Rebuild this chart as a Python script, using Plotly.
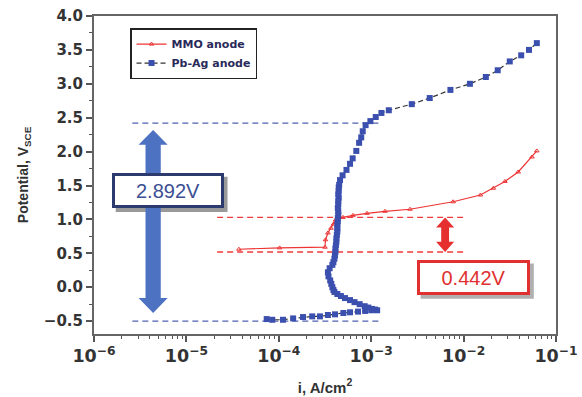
import plotly.graph_objects as go

# ---------------- data ----------------
pbag_i = [7.4e-5, 8.5e-5, 1.11e-4, 1.43e-4, 1.83e-4, 2.3e-4, 2.79e-4, 3.4e-4, 4.06e-4, 5.0e-4,
          5.9e-4, 7.2e-4, 8.6e-4, 1.0e-3, 1.16e-3, 1.1e-3, 1.02e-3, 9.3e-4, 8.5e-4, 7.5e-4,
          6.6e-4, 5.9e-4, 5.2e-4, 4.7e-4, 4.3e-4, 4.0e-4, 3.9e-4, 3.8e-4, 3.7e-4, 3.6e-4,
          3.45e-4, 3.4e-4, 3.55e-4, 3.8e-4, 3.9e-4, 4.0e-4, 4.05e-4, 4.1e-4, 4.1e-4, 4.15e-4,
          4.2e-4, 4.2e-4, 4.25e-4, 4.3e-4, 4.3e-4, 4.3e-4, 4.35e-4, 4.35e-4, 4.4e-4, 4.4e-4,
          4.35e-4, 4.4e-4, 4.4e-4, 4.45e-4, 4.4e-4, 4.45e-4, 4.45e-4, 4.5e-4, 4.6e-4, 4.9e-4,
          5.4e-4, 5.9e-4, 6.3e-4, 6.9e-4, 7.4e-4, 7.8e-4, 8.1e-4, 8.7e-4, 9.8e-4, 1.12e-3,
          1.29e-3, 1.55e-3, 2.75e-3, 4.3e-3, 7.2e-3, 1.17e-2, 1.74e-2, 2.34e-2, 3.16e-2, 4.2e-2,
          5.1e-2, 6.2e-2]
pbag_v = [-0.47, -0.48, -0.48, -0.46, -0.44, -0.43, -0.43, -0.41, -0.40, -0.38,
          -0.37, -0.36, -0.35, -0.34, -0.34, -0.33, -0.32, -0.30, -0.28, -0.25,
          -0.22, -0.19, -0.16, -0.13, -0.10, -0.07, -0.04, 0.00, 0.05, 0.10,
          0.16, 0.22, 0.28, 0.33, 0.37, 0.42, 0.47, 0.52, 0.57, 0.62,
          0.67, 0.72, 0.77, 0.82, 0.87, 0.92, 0.97, 1.02, 1.07, 1.12,
          1.17, 1.22, 1.27, 1.32, 1.37, 1.42, 1.47, 1.51, 1.58, 1.65,
          1.73, 1.82, 1.90, 2.01, 2.13, 2.21, 2.30, 2.39, 2.45, 2.51,
          2.57, 2.61, 2.70, 2.79, 2.91, 3.00, 3.10, 3.20, 3.33, 3.42,
          3.50, 3.60]

mmo_i = [3.7e-5, 1.02e-4, 3.16e-4, 3.2e-4, 3.4e-4, 3.67e-4, 3.9e-4, 4.1e-4, 4.95e-4,
         6.35e-4, 9.0e-4, 1.41e-3, 2.63e-3, 7.7e-3, 1.52e-2, 2.1e-2, 2.8e-2, 3.9e-2,
         5.5e-2, 6.2e-2]
mmo_v = [0.56, 0.58, 0.59, 0.70, 0.80, 0.87, 0.93, 0.99, 1.03,
         1.06, 1.09, 1.12, 1.15, 1.26, 1.36, 1.46, 1.56, 1.70,
         1.92, 2.01]

# reference (dashed) levels and their extents
blue_levels = [2.42, -0.50]
blue_extent = [2.6e-6, 1.3e-3]
red_levels = [1.03, 0.52]
red_extent = [2.15e-5, 1.02e-2]

x_range_log = [-6, -1]
y_range = [-0.69, 4.0]

label_blue = "2.892V"
label_red = "0.442V"

# ---------------- figure ----------------
fig = go.Figure()

for lv in blue_levels:
    fig.add_trace(go.Scatter(x=blue_extent, y=[lv, lv], mode="lines", showlegend=False,
                             hoverinfo="skip",
                             line=dict(color="#5062b0", width=1.4, dash="6px,4px")))
for lv in red_levels:
    fig.add_trace(go.Scatter(x=red_extent, y=[lv, lv], mode="lines", showlegend=False,
                             hoverinfo="skip",
                             line=dict(color="#ee3b3b", width=1.4, dash="6px,4px")))

fig.add_trace(go.Scatter(x=mmo_i, y=mmo_v, mode="lines+markers", name="MMO anode",
                         line=dict(color="#ee3333", width=1.2),
                         marker=dict(symbol="triangle-up-open", size=4, color="#ee3333",
                                     line=dict(width=1, color="#ee3333"))))
fig.add_trace(go.Scatter(x=pbag_i, y=pbag_v, mode="lines+markers", name="Pb-Ag anode",
                         line=dict(color="#333333", width=1.2, dash="5px,3px"),
                         marker=dict(symbol="square", size=6, color="#3b4fae")))


# block double arrows (paper x, data y)
def block_arrow(xc, ytop, ybot, shw, hhw, hl):
    pts = [(xc, ytop), (xc + hhw, ytop - hl), (xc + shw, ytop - hl), (xc + shw, ybot + hl),
           (xc + hhw, ybot + hl), (xc, ybot), (xc - hhw, ybot + hl), (xc - shw, ybot + hl),
           (xc - shw, ytop - hl), (xc - hhw, ytop - hl)]
    return "M " + " L ".join(f"{a},{b}" for a, b in pts) + " Z"


shapes = []
# legend shadow
shapes.append(dict(type="rect", xref="paper", yref="paper", x0=0.086, x1=0.350, y0=0.842, y1=0.952,
                   fillcolor="#333333", line=dict(width=0), layer="above"))
# box shadows
shapes.append(dict(type="rect", xref="paper", yref="y", x0=0.047, x1=0.289, y0=1.11, y1=1.63,
                   fillcolor="#9a9a9a", line=dict(width=0), layer="above"))
shapes.append(dict(type="rect", xref="paper", yref="y", x0=0.707, x1=0.952, y0=-0.17, y1=0.35,
                   fillcolor="#b0b0b0", line=dict(width=0), layer="above"))
shapes.append(dict(type="path", xref="paper", yref="y",
                   path=block_arrow(0.128, 2.32, -0.38, 0.0165, 0.0315, 0.22),
                   fillcolor="#4d72c2", line=dict(width=0), layer="above"))
shapes.append(dict(type="path", xref="paper", yref="y",
                   path=block_arrow(0.760, 1.03, 0.52, 0.0085, 0.0195, 0.15),
                   fillcolor="#e63030", line=dict(width=0), layer="above"))

annotations = [
    dict(xref="paper", yref="y", x=0.160, y=1.425, xanchor="center", yanchor="middle",
         text=label_blue, showarrow=False,
         font=dict(family="Liberation Sans", size=20, color="#3c4f94"),
         bgcolor="white", bordercolor="#2d3a6e", borderwidth=3, borderpad=0,
         width=106, height=29),
    dict(xref="paper", yref="y", x=0.821, y=0.142, xanchor="center", yanchor="middle",
         text=label_red, showarrow=False,
         font=dict(family="Liberation Sans", size=20, color="#e03030"),
         bgcolor="white", bordercolor="#e03030", borderwidth=3, borderpad=0,
         width=107, height=29),
]

fig.update_layout(
    width=582, height=397,
    margin=dict(l=94, r=26, t=16, b=63),
    paper_bgcolor="white", plot_bgcolor="white",
    shapes=shapes, annotations=annotations,
    legend=dict(x=0.078, y=0.962, xanchor="left", yanchor="top",
                bgcolor="white", bordercolor="#222222", borderwidth=1.5,
                font=dict(family="DejaVu Sans", size=11, color="#2a2a5a", weight="bold"),
                tracegroupgap=0, itemwidth=30),
)

fig.update_xaxes(
    type="log", range=x_range_log, dtick=1, exponentformat="power", showexponent="all",
    automargin=False,
    showgrid=False, zeroline=False,
    showline=True, linecolor="#666666", linewidth=2, mirror=True,
    ticks="outside", ticklen=6, tickwidth=1.5, tickcolor="#555555",
    minor=dict(ticks="outside", ticklen=3, tickwidth=1, tickcolor="#555555", showgrid=False),
    tickfont=dict(family="DejaVu Sans", size=14, color="#333333", weight="bold"),
    title=dict(text="i, A/cm<sup>2</sup>", standoff=17,
               font=dict(family="Liberation Sans", size=15, color="#333333", weight="bold")),
)
fig.update_yaxes(
    range=y_range, tick0=0, dtick=0.5, tickformat=".1f",
    automargin=False,
    showgrid=False, zeroline=False,
    showline=True, linecolor="#666666", linewidth=2, mirror=True,
    ticks="outside", ticklen=6, tickwidth=1.5, tickcolor="#555555",
    minor=dict(ticks="outside", ticklen=3, tickwidth=1, tickcolor="#555555", dtick=0.25, showgrid=False),
    tickfont=dict(family="DejaVu Sans", size=15, color="#333333", weight="bold"),
    title=dict(text="Potential, V<sub>SCE</sub>", standoff=12,
               font=dict(family="Liberation Sans", size=14, color="#333333", weight="bold")),
)

fig.write_html("out.html", config={"displayModeBar": False},
               post_script="document.body.style.margin='0';")
